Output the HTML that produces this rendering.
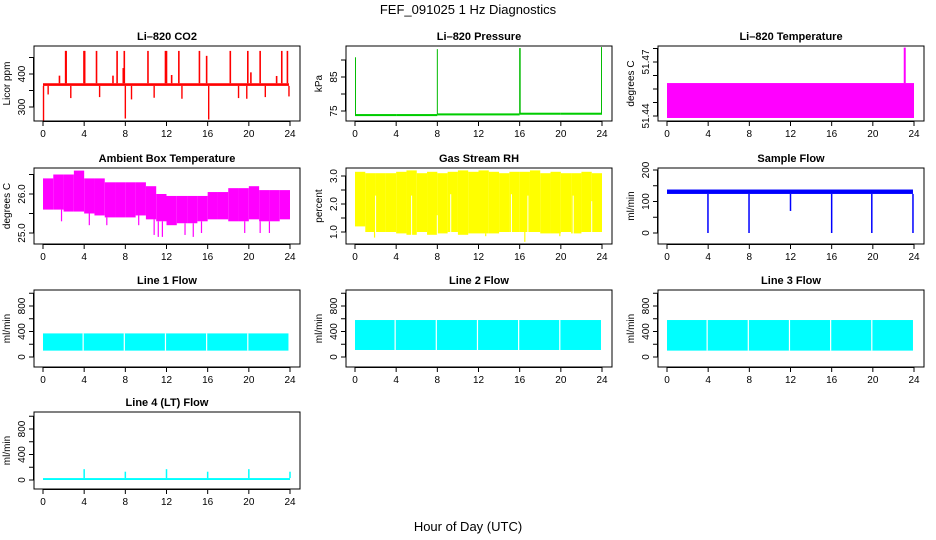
<!DOCTYPE html>
<html><head><meta charset="utf-8"><style>
html,body{margin:0;padding:0;background:#fff}
svg{display:block;font-family:"Liberation Sans",sans-serif}
</style></head><body>
<svg id="c" width="936" height="540" viewBox="0 0 936 540" xmlns="http://www.w3.org/2000/svg">
<text x="468" y="14" text-anchor="middle" font-size="13">FEF_091025  1 Hz Diagnostics</text>
<text x="468" y="531" text-anchor="middle" font-size="13">Hour of Day (UTC)</text>
</svg>
<script>
// ---- data ----
const xTicks = [0,4,8,12,16,20,24];
const co2BandLo = 364, co2BandHi = 372, co2End = 23.9;
const co2SpikeH = [1.6,2.2,2.25,3.98,4.05,5.2,6.8,7.2,7.8,7.9,10.2,11.9,12.0,12.5,13.2,15.2,15.9,18.2,19.9,20.2,21.1,22.7,23.2,23.75];
const co2SpikeV = [395,470,470,470,470,470,395,470,418,470,470,470,470,397,470,470,455,470,470,405,470,394,470,470];
const co2DipH = [0.05,0.5,2.7,5.5,8.0,8.6,10.8,13.5,16.1,19.0,19.8,21.6,23.9];
const co2DipV = [258,338,327,330,265,323,328,325,262,327,325,330,332];
const co2Ticks = [300,350,400,450];
const co2Labels = [300,400];

const presH = [0,4,8,12,16,20,24];
const presV = [73.8,73.8,74.0,74.0,74.2,74.2,74.4];
const presSpikeH = [0.05,8.0,16.0,16.05,23.95];
const presSpikeV = [90.8,93.2,93.5,93.5,93.8];
const presTicks = [75,80,85,90];
const presLabels = [75,85];

const tempBandLo = 51.4389, tempBandHi = 51.4583, tempEnd = 24;
const tempSpikeH = [23.1];
const tempSpikeV = [51.478];
const tempTicks = [51.44,51.4475,51.455,51.4625,51.47,51.4775];
const tempLabels = [51.44,51.47];

const ambHi = [26.4,26.5,26.5,26.6,26.4,26.4,26.3,26.3,26.3,26.3,26.2,26.0,25.95,25.95,25.95,25.95,26.05,26.05,26.15,26.15,26.2,26.1,26.1,26.1];
const ambLo = [25.6,25.6,25.55,25.55,25.5,25.45,25.4,25.4,25.4,25.45,25.35,25.3,25.2,25.25,25.25,25.3,25.35,25.35,25.3,25.3,25.35,25.3,25.3,25.35];
const ambDipH = [1.8,4.5,6.2,9.3,10.8,11.2,11.6,13.8,14.6,15.4,19.6,21.1,22.0];
const ambDipV = [25.3,25.2,25.2,25.2,24.95,24.9,24.9,24.95,24.9,25.0,25.0,25.0,25.0];
const ambTicks = [25.0,25.5,26.0,26.5];
const ambLabels = ["25.0","26.0"];

const rhHi = [3.15,3.1,3.1,3.1,3.15,3.2,3.1,3.15,3.1,3.15,3.2,3.15,3.2,3.15,3.1,3.15,3.15,3.2,3.1,3.15,3.1,3.1,3.15,3.1];
const rhLo = [1.2,1.0,1.0,1.0,0.95,0.9,1.0,0.9,0.95,1.0,0.9,0.95,0.95,0.95,1.0,1.0,1.0,1.0,0.95,0.95,1.0,0.95,1.0,1.0];
const rhDipH = [1.9,12.7,16.5,19.9];
const rhDipV = [0.8,0.85,0.65,0.85];
const rhGapH = [2.0,5.5,8.0,9.3,15.2,16.8,21.2,23.0];
const rhGapV = [2.3,2.3,1.6,2.35,2.35,2.3,2.3,2.1];
const rhTicks = [1.0,1.5,2.0,2.5,3.0];
const rhLabels = ["1.0","2.0","3.0"];

const sfBandLo = 124, sfBandHi = 138, sfEnd = 23.9;
const sfDipH = [3.98,7.97,12.0,16.0,19.9,23.9];
const sfDipV = [0,0,70,0,0,0];
const sfTicks = [0,50,100,150,200];
const sfLabels = [0,100,200];

const flowGaps = [4,8,12,16,20];
const l1Lo = 100, l1Hi = 370, l1End = 23.85;
const l2Lo = 110, l2Hi = 580, l2End = 23.9;
const l3Lo = 100, l3Hi = 580, l3End = 23.9;
const l4Lo = 0, l4Hi = 30, l4End = 24;
const l4SpikeH = [4.0,8.0,12.0,16.0,20.0,24.0];
const l4SpikeV = [170,130,170,130,170,130];
const flowTicks = [0,200,400,600,800,1000];
const flowLabels = [0,400,800];

// ---- layout ----
const svg = document.getElementById('c');
const NS = 'http://www.w3.org/2000/svg';
const colL = [34,346,658], colR = [300,612,924], colX0 = [43,355,667], colX1 = [290,602,914];
const rowT = [46,168,290,412], rowB = [121,244,367,489];
function el(tag, attrs, parent){const e=document.createElementNS(NS,tag);for(const k in attrs)e.setAttribute(k,attrs[k]);(parent||svg).appendChild(e);return e;}

function panel(name, title, ylab, col, row, v0, p0, v1, p1, yt, yl, fmt){
  const g = el('g',{});
  
  
  const x = h => colX0[col] + h/24*(colX1[col]-colX0[col]);
  const y = v => p0 + (v-v0)*(p1-p0)/(v1-v0);
  const L=colL[col], R=colR[col], T=rowT[row], B=rowB[row];
  const t = el('text',{x:(L+R)/2,y:T-6,'text-anchor':'middle','font-size':11,'font-weight':'bold'},g);
  t.textContent = title;
  
  
  const data = el('g',{},g);
  
  
  const box = el('rect',{x:L,y:T,width:R-L,height:B-T,fill:'none',stroke:'#000','stroke-width':1},g);
  
  
  const xa = el('g',{},g);
  
  
  el('line',{x1:x(0),x2:x(24),y1:B+0.5,y2:B+0.5,stroke:'#000'},xa);
  xTicks.forEach(h=>{
    el('line',{x1:x(h),x2:x(h),y1:B,y2:B+5,stroke:'#000'},xa);
    const tt=el('text',{x:x(h),y:B+16,'text-anchor':'middle','font-size':10},xa);tt.textContent=h;
  });
  const ya = el('g',{},g);
  
  
  el('line',{x1:L-0.5,x2:L-0.5,y1:y(yt[0]),y2:y(yt[yt.length-1]),stroke:'#000'},ya);
  yt.forEach(v=>el('line',{x1:L-5,x2:L,y1:y(v),y2:y(v),stroke:'#000'},ya));
  yl.forEach(v=>{
    const yy=y(parseFloat(v));
    const tt=el('text',{x:L-9,y:yy,'text-anchor':'middle','font-size':10,transform:`rotate(-90 ${L-9} ${yy})`},ya);
    tt.textContent = fmt?fmt(v):v;
  });
  const yt2 = el('text',{x:L-24,y:(T+B)/2,'text-anchor':'middle','font-size':10,transform:`rotate(-90 ${L-24} ${(T+B)/2})`},g);
  yt2.textContent = ylab;
  
  
  return {x,y,g:data};
}
function rect(p,h0,h1,lo,hi,c,g){const a=p.y(hi),b=p.y(lo);return el('rect',{x:p.x(h0),y:Math.min(a,b),width:Math.max(0.8,p.x(h1)-p.x(h0)),height:Math.max(1,Math.abs(b-a)),fill:c},g||p.g);}
function vline(p,h,a,b,c,w){return el('line',{x1:p.x(h),x2:p.x(h),y1:p.y(a),y2:p.y(b),stroke:c,'stroke-width':w||1.2},p.g);}

// CO2
let p = panel('co2','Li\u2013820 CO2','Licor ppm',0,0,400,74,300,107,co2Ticks,co2Labels);
rect(p,0,co2End,co2BandLo,co2BandHi,'#ff0000');
co2SpikeH.forEach((h,i)=>vline(p,h,co2BandHi,co2SpikeV[i],'#ff0000',1.6));
co2DipH.forEach((h,i)=>vline(p,h,co2BandLo,co2DipV[i],'#ff0000',1.4));

// Pressure
p = panel('pressure','Li\u2013820 Pressure','kPa',1,0,75,111,85,77,presTicks,presLabels);
for(let i=0;i<presH.length-1;i++) rect(p,presH[i],presH[i+1],presV[i]-0.3,presV[i]+0.3,'#00cc00');
presSpikeH.forEach((h,i)=>vline(p,h,presV[Math.min(presV.length-1,Math.round(h/4))],presSpikeV[i],'#00bb00',1));

// Temperature
p = panel('li820-temp','Li\u2013820 Temperature','degrees C',2,0,51.44,116,51.47,62,tempTicks,tempLabels);
rect(p,0,tempEnd,tempBandLo,tempBandHi,'#ff00ff');
tempSpikeH.forEach((h,i)=>vline(p,h,tempBandHi,tempSpikeV[i],'#ff00ff',2));

// Ambient
p = panel('ambient-temp','Ambient Box Temperature','degrees C',0,1,26,194,25,233,ambTicks,ambLabels);
ambHi.forEach((v,i)=>rect(p,i,i+1,ambLo[i],v,'#ff00ff'));
ambDipH.forEach((h,i)=>vline(p,h,ambLo[Math.floor(h)],ambDipV[i],'#ff00ff',1.2));

// RH
p = panel('gas-rh','Gas Stream RH','percent',1,1,1,232,3,176,rhTicks,rhLabels);
rhHi.forEach((v,i)=>rect(p,i,i+1,rhLo[i],v,'#ffff00'));
rhDipH.forEach((h,i)=>vline(p,h,rhLo[Math.floor(h)],rhDipV[i],'#ffff00',1.2));
rhGapH.forEach((h,i)=>vline(p,h,rhLo[Math.floor(h)]-0.05,rhGapV[i],'#ffffff',1));

// Sample flow
p = panel('sample-flow','Sample Flow','ml/min',2,1,0,233,200,170,sfTicks,sfLabels);
rect(p,0,sfEnd,sfBandLo,sfBandHi,'#0000ff');
sfDipH.forEach((h,i)=>vline(p,h,sfBandLo,sfDipV[i],'#0000ff',1.5));

// Flows
function flow(name,title,col,row,zeroY,lo,hi,end){
  const q = panel(name,title,'ml/min',col,row,0,zeroY,800,zeroY-51,flowTicks,flowLabels);
  rect(q,0,end,lo,hi,'#00ffff');
  flowGaps.forEach(h=>vline(q,h-0.1,lo,hi,'#ffffff',1.2));
  return q;
}
flow('line1-flow','Line 1 Flow',0,2,357,l1Lo,l1Hi,l1End);
flow('line2-flow','Line 2 Flow',1,2,357,l2Lo,l2Hi,l2End);
flow('line3-flow','Line 3 Flow',2,2,357,l3Lo,l3Hi,l3End);
p = panel('line4-flow','Line 4 (LT) Flow','ml/min',0,3,0,480,800,429,flowTicks,flowLabels);
rect(p,0,l4End,l4Lo,l4Hi,'#00ffff');
l4SpikeH.forEach((h,i)=>vline(p,h,l4Hi,l4SpikeV[i],'#00ffff',1.5));
</script>
</body></html>
